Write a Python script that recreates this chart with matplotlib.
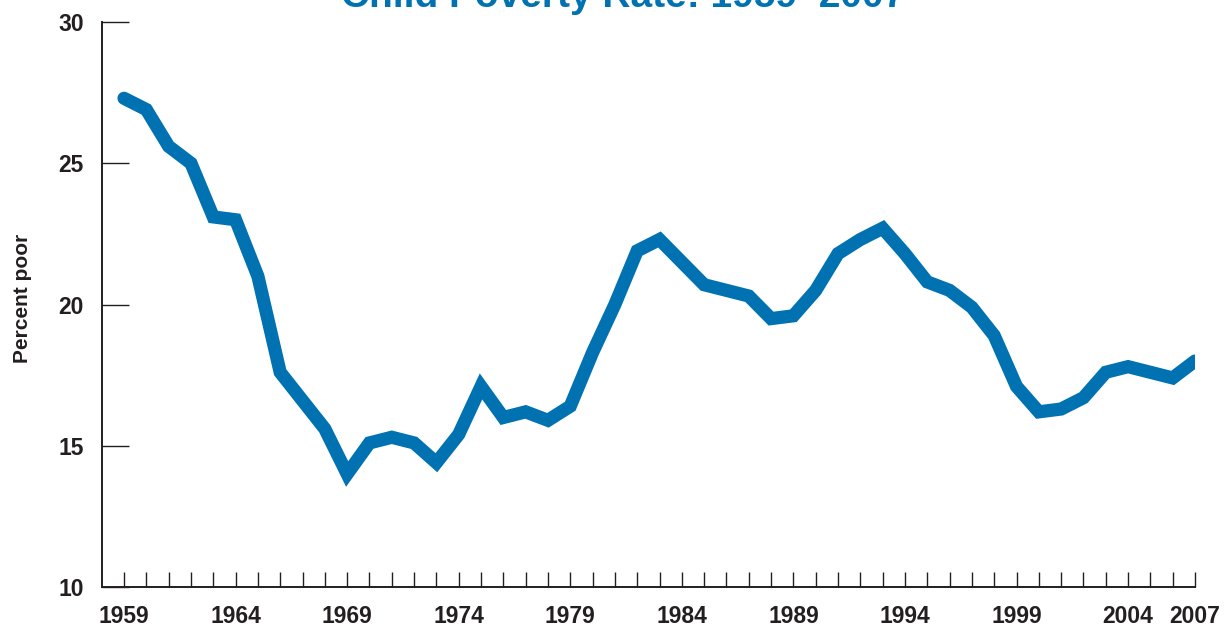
import matplotlib
matplotlib.use('Agg')
import matplotlib.pyplot as plt
from matplotlib import font_manager

# child poverty rate
years = list(range(1959, 2008))
rate = [27.3, 26.9, 25.6, 25.0, 23.1, 23.0, 21.0, 17.6, 16.6, 15.6,
        14.0, 15.1, 15.3, 15.1, 14.4, 15.4, 17.1, 16.0, 16.2, 15.9,
        16.4, 18.3, 20.0, 21.9, 22.3, 21.5, 20.7, 20.5, 20.3, 19.5,
        19.6, 20.5, 21.8, 22.3, 22.7, 21.8, 20.8, 20.5, 19.9, 18.9,
        17.1, 16.2, 16.3, 16.7, 17.6, 17.8, 17.6, 17.4, 18.0]

x_labels = [1959, 1964, 1969, 1974, 1979, 1984, 1989, 1994, 1999, 2004, 2007]
y_ticks = [10, 15, 20, 25, 30]

names = {f.name for f in font_manager.fontManager.ttflist}
font = 'Liberation Sans Narrow' if 'Liberation Sans Narrow' in names else 'Liberation Sans'
plt.rcParams['font.family'] = [font, 'DejaVu Sans']
plt.rcParams['font.weight'] = 'bold'

blue = '#0072b1'
dark = '#231f20'

fig = plt.figure(figsize=(12.27, 6.29), dpi=100)
ax = fig.add_axes([101.7 / 1227, 42 / 629, (1195 - 101.7) / 1227, (587 - 22) / 629])

ax.plot(years, rate, color=blue, lw=9.5, solid_capstyle='round', solid_joinstyle='miter')

ax.set_xlim(1958, 2007)
ax.set_ylim(10, 30)
ax.set_xticks(years)
ax.set_xticklabels([str(y) if y in x_labels else '' for y in years])
ax.set_yticks(y_ticks)

for s in ['top', 'right']:
    ax.spines[s].set_visible(False)
for s in ['left', 'bottom']:
    ax.spines[s].set_color(dark)
    ax.spines[s].set_linewidth(1.4)

ax.tick_params(axis='x', direction='in', length=10.5, width=1.0, color=dark,
               labelsize=16.5, pad=13, labelcolor=dark)
ax.tick_params(axis='y', direction='in', length=19.5, width=1.0, color=dark,
               labelsize=16.5, pad=13, labelcolor=dark)

ax.set_ylabel('Percent poor', fontsize=15, fontweight='bold', color=dark)
ax.yaxis.set_label_coords(-0.064, 0.51)

# title sits mostly above the top edge (cut off), as in the source
fig.text(0.508, 1 - 7 / 629, 'Child Poverty Rate: 1959\u20132007', ha='center', va='baseline',
         fontsize=28, fontweight='bold', color=blue)

fig.savefig('out.png', dpi=100)
